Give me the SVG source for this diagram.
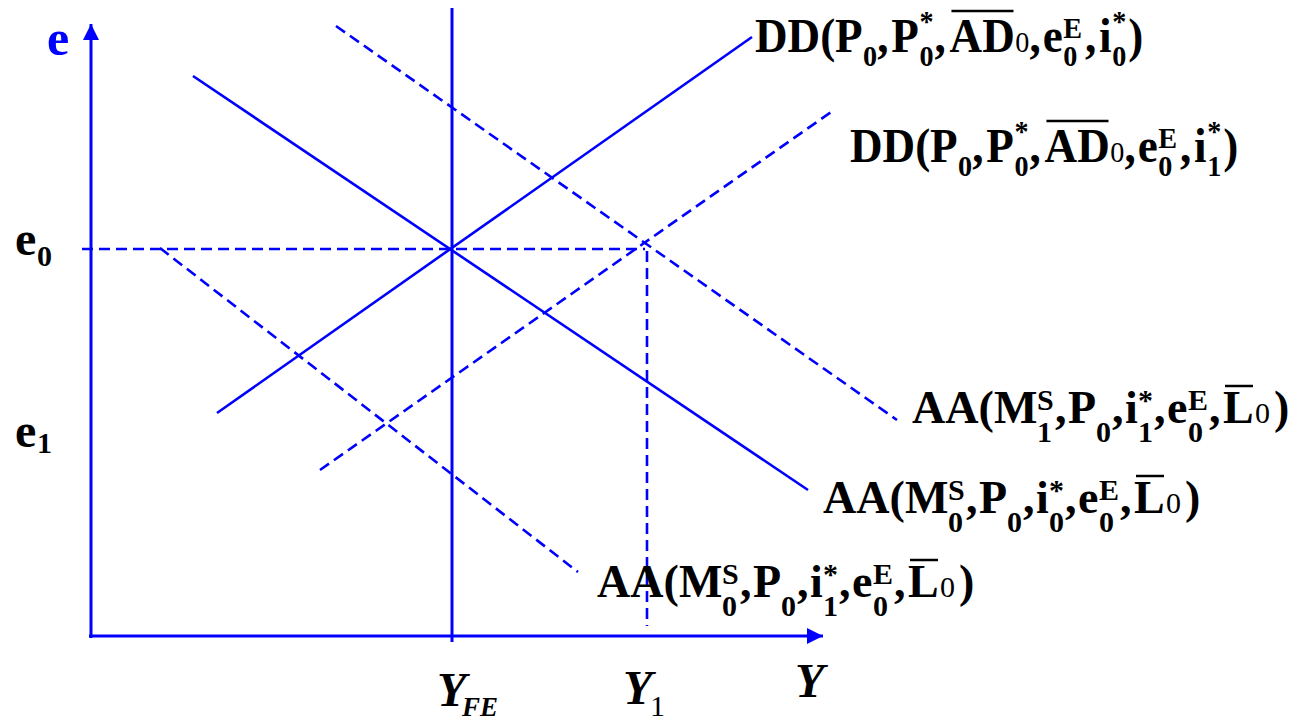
<svg xmlns="http://www.w3.org/2000/svg" width="1297" height="722" viewBox="0 0 1297 722" font-family="Liberation Serif, serif">
<style>
.ax{stroke:#0000ff;stroke-width:3;fill:none}
.sl{stroke:#0000ff;stroke-width:2.6;fill:none}
.ds{stroke:#0000ff;stroke-width:2.6;fill:none;stroke-dasharray:11 6}
.lbl{font-weight:bold;fill:#000}
.m{font-size:48px}
.ma{font-size:46px}
.s{font-size:30px}
.r{font-weight:normal;font-size:30px}
.ovl{stroke:#000;stroke-width:2.5}
.it{font-style:italic}
</style>
<defs>
<marker id="arr" markerWidth="16" markerHeight="16" refX="16" refY="8" orient="auto" markerUnits="userSpaceOnUse">
<path d="M0,0 L16,8 L0,16 z" fill="#0000ff"/>
</marker>
</defs>
<rect width="1297" height="722" fill="#fff"/>

<g id="axes">
<line class="ax" x1="91" y1="638" x2="91" y2="24" marker-end="url(#arr)"/>
<line class="ax" x1="89" y1="636" x2="823" y2="636" marker-end="url(#arr)"/>
<line class="ax" x1="452" y1="8" x2="452" y2="642"/>
</g>

<g id="connectors">
<line class="sl" x1="217" y1="413" x2="752" y2="37"/>
<line class="sl" x1="193" y1="76" x2="808" y2="490"/>
<line class="ds" x1="336" y1="26" x2="897" y2="420"/>
<line class="ds" x1="320" y1="470" x2="834" y2="110"/>
<line class="ds" x1="160" y1="248" x2="578" y2="572"/>
<line class="ds" x1="82" y1="249" x2="645" y2="249"/>
<line class="ds" x1="647" y1="251" x2="647" y2="626"/>
</g>

<g id="axis-labels">
<text class="lbl" font-family="Liberation Serif, serif" x="47" y="55" font-size="50" fill="#0000ff" style="fill:#0000ff">e</text>
<text class="lbl" font-family="Liberation Serif, serif" x="15" y="255" font-size="48">e</text>
<text class="lbl" font-family="Liberation Serif, serif" x="37" y="266" font-size="30">0</text>
<text class="lbl" font-family="Liberation Serif, serif" x="15" y="447" font-size="48">e</text>
<text class="lbl" font-family="Liberation Serif, serif" x="37" y="453" font-size="30">1</text>
<text class="lbl it" font-family="Liberation Serif, serif" x="437" y="706" font-size="48">Y</text>
<text class="lbl it" font-family="Liberation Serif, serif" x="462" y="716" font-size="27">FE</text>
<text class="lbl it" font-family="Liberation Serif, serif" x="623" y="704" font-size="48">Y</text>
<text font-family="Liberation Serif, serif" x="650" y="716" font-size="30" fill="#000">1</text>
<text class="lbl it" font-family="Liberation Serif, serif" x="795" y="697" font-size="48">Y</text>
</g>

<g id="label-dd0" transform="translate(755 52) scale(0.94 1)">
<text class="lbl m" font-family="Liberation Serif, serif"><tspan x="0" y="0">DD(</tspan><tspan x="85" y="0">P</tspan><tspan class="s" x="115" y="14">0</tspan><tspan x="130" y="0">,</tspan><tspan x="145" y="0">P</tspan><tspan class="s" x="175" y="-21">*</tspan><tspan class="s" x="175" y="14">0</tspan><tspan x="191" y="0">,</tspan><tspan x="207" y="0">AD</tspan><tspan class="r" x="277" y="0">0</tspan><tspan x="292" y="0">,</tspan><tspan x="306" y="0">e</tspan><tspan class="s" x="328" y="-14">E</tspan><tspan class="s" x="328" y="14">0</tspan><tspan x="351" y="0">,</tspan><tspan x="366" y="0">i</tspan><tspan class="s" x="380" y="-21">*</tspan><tspan class="s" x="380" y="14">0</tspan><tspan x="397" y="0">)</tspan></text>
<line class="ovl" x1="209" y1="-41" x2="275" y2="-41"/>
</g>

<g id="label-dd1" transform="translate(850 162) scale(0.94 1)">
<text class="lbl m" font-family="Liberation Serif, serif"><tspan x="0" y="0">DD(</tspan><tspan x="85" y="0">P</tspan><tspan class="s" x="115" y="14">0</tspan><tspan x="130" y="0">,</tspan><tspan x="145" y="0">P</tspan><tspan class="s" x="175" y="-21">*</tspan><tspan class="s" x="175" y="14">0</tspan><tspan x="191" y="0">,</tspan><tspan x="207" y="0">AD</tspan><tspan class="r" x="277" y="0">0</tspan><tspan x="292" y="0">,</tspan><tspan x="306" y="0">e</tspan><tspan class="s" x="328" y="-14">E</tspan><tspan class="s" x="328" y="14">0</tspan><tspan x="351" y="0">,</tspan><tspan x="366" y="0">i</tspan><tspan class="s" x="380" y="-21">*</tspan><tspan class="s" x="380" y="14">1</tspan><tspan x="397" y="0">)</tspan></text>
<line class="ovl" x1="209" y1="-41" x2="275" y2="-41"/>
</g>

<g id="label-aa1" transform="translate(912 423)">
<text class="lbl ma" font-family="Liberation Serif, serif"><tspan x="0" y="0">AA(</tspan><tspan x="82" y="0">M</tspan><tspan class="s" x="125" y="-13">S</tspan><tspan class="s" x="125" y="19">1</tspan><tspan x="143" y="0">,</tspan><tspan x="156" y="0">P</tspan><tspan class="s" x="184" y="19">0</tspan><tspan x="200" y="0">,</tspan><tspan x="213" y="0">i</tspan><tspan class="s" x="226" y="-13">*</tspan><tspan class="s" x="226" y="19">1</tspan><tspan x="242" y="0">,</tspan><tspan x="255" y="0">e</tspan><tspan class="s" x="276" y="-13">E</tspan><tspan class="s" x="276" y="19">0</tspan><tspan x="297" y="0">,</tspan><tspan x="311" y="0">L</tspan><tspan class="r" x="343" y="0">0</tspan><tspan x="362" y="0">)</tspan></text>
<line class="ovl" x1="313" y1="-37" x2="341" y2="-37"/>
</g>

<g id="label-aa0" transform="translate(823 513)">
<text class="lbl ma" font-family="Liberation Serif, serif"><tspan x="0" y="0">AA(</tspan><tspan x="82" y="0">M</tspan><tspan class="s" x="125" y="-13">S</tspan><tspan class="s" x="125" y="19">0</tspan><tspan x="143" y="0">,</tspan><tspan x="156" y="0">P</tspan><tspan class="s" x="184" y="19">0</tspan><tspan x="200" y="0">,</tspan><tspan x="213" y="0">i</tspan><tspan class="s" x="226" y="-13">*</tspan><tspan class="s" x="226" y="19">0</tspan><tspan x="242" y="0">,</tspan><tspan x="255" y="0">e</tspan><tspan class="s" x="276" y="-13">E</tspan><tspan class="s" x="276" y="19">0</tspan><tspan x="297" y="0">,</tspan><tspan x="311" y="0">L</tspan><tspan class="r" x="343" y="0">0</tspan><tspan x="362" y="0">)</tspan></text>
<line class="ovl" x1="313" y1="-37" x2="341" y2="-37"/>
</g>

<g id="label-aa2" transform="translate(597 597)">
<text class="lbl ma" font-family="Liberation Serif, serif"><tspan x="0" y="0">AA(</tspan><tspan x="82" y="0">M</tspan><tspan class="s" x="125" y="-13">S</tspan><tspan class="s" x="125" y="19">0</tspan><tspan x="143" y="0">,</tspan><tspan x="156" y="0">P</tspan><tspan class="s" x="184" y="19">0</tspan><tspan x="200" y="0">,</tspan><tspan x="213" y="0">i</tspan><tspan class="s" x="226" y="-13">*</tspan><tspan class="s" x="226" y="19">1</tspan><tspan x="242" y="0">,</tspan><tspan x="255" y="0">e</tspan><tspan class="s" x="276" y="-13">E</tspan><tspan class="s" x="276" y="19">0</tspan><tspan x="297" y="0">,</tspan><tspan x="311" y="0">L</tspan><tspan class="r" x="343" y="0">0</tspan><tspan x="362" y="0">)</tspan></text>
<line class="ovl" x1="313" y1="-37" x2="341" y2="-37"/>
</g>
</svg>
